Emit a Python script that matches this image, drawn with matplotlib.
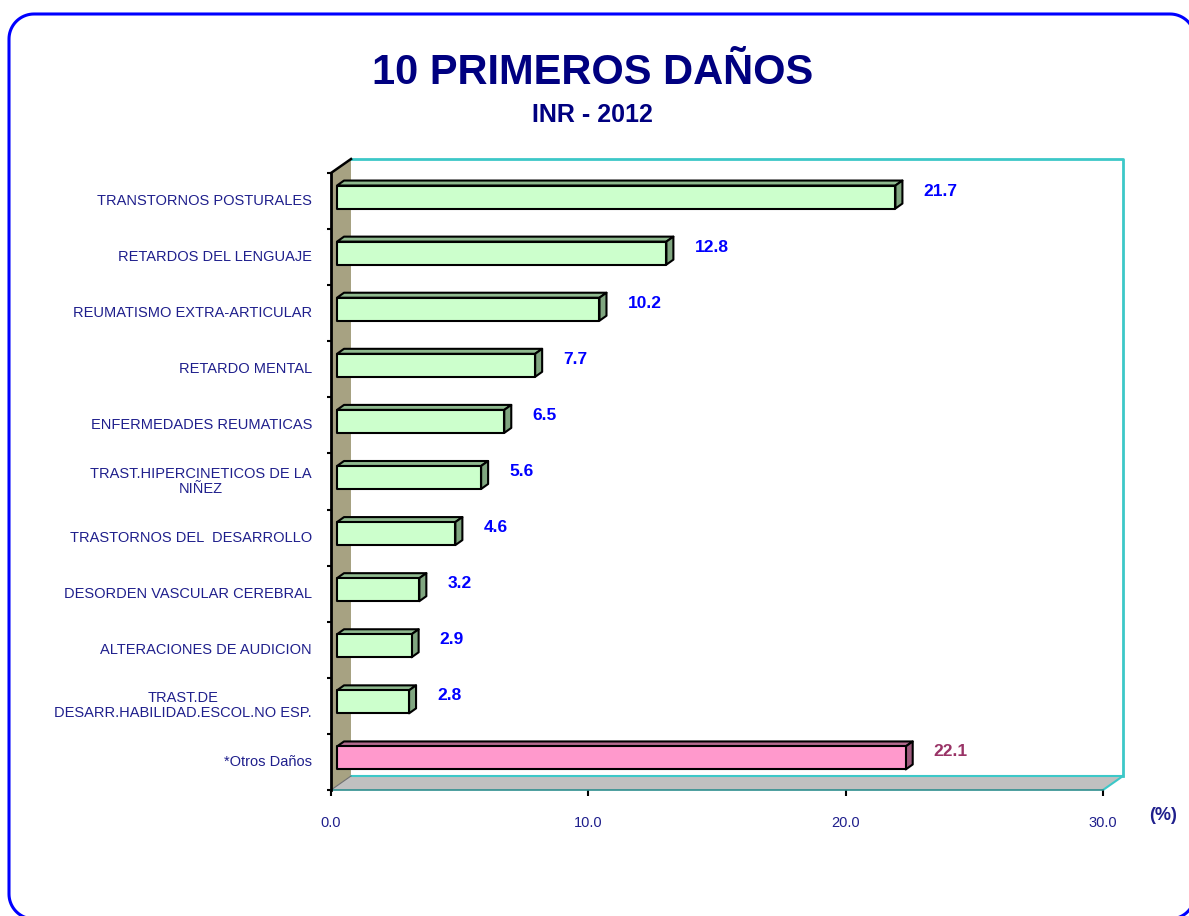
import numpy as np
import matplotlib.pyplot as plt
from matplotlib.patches import Polygon
from matplotlib.lines import Line2D

plt.rcParams['font.family'] = ['Liberation Sans', 'DejaVu Sans']

categorias = [
    "TRANSTORNOS POSTURALES",
    "RETARDOS DEL LENGUAJE",
    "REUMATISMO EXTRA-ARTICULAR",
    "RETARDO MENTAL",
    "ENFERMEDADES REUMATICAS",
    "TRAST.HIPERCINETICOS DE LA\nNIÑEZ",
    "TRASTORNOS DEL  DESARROLLO",
    "DESORDEN VASCULAR CEREBRAL",
    "ALTERACIONES DE AUDICION",
    "TRAST.DE\nDESARR.HABILIDAD.ESCOL.NO ESP.",
    "*Otros Daños",
]
porcentajes = [21.7, 12.8, 10.2, 7.7, 6.5, 5.6, 4.6, 3.2, 2.9, 2.8, 22.1]
ticks_x = [0, 10, 20, 30]

AZUL_OSCURO = '#1f1f8c'

W, H = 1189, 916
fig = plt.figure(figsize=(W / 100, H / 100), dpi=100)

# front plane of the plot area, in pixels
x0, x1, ytop, ybot = 331, 1103, 173, 790
ax = fig.add_axes([x0 / W, 1 - ybot / H, (x1 - x0) / W, (ybot - ytop) / H])
n = len(categorias)
ax.set_xlim(0, 30)
ax.set_ylim(n - 0.5, -0.5)

sx = 30 / (x1 - x0)
sy = n / (ybot - ytop)


def shift(x, y, dx, dy):
    # move a data point dx px right and dy px up
    return (x + dx * sx, y - dy * sy)


D = (20, 14)          # depth of wall/floor
F = (6, 4)            # bar front face
B = (13, 9)           # bar back face

# walls
pared = [(0, -0.5), shift(0, -0.5, *D), shift(0, n - 0.5, *D), (0, n - 0.5)]
piso = [(0, n - 0.5), (30, n - 0.5), shift(30, n - 0.5, *D), shift(0, n - 0.5, *D)]
ax.add_patch(Polygon(pared, closed=True, fc='#a7a282', ec='none', zorder=1, clip_on=False))
ax.add_patch(Polygon(piso, closed=True, fc='#c0c0c0', ec='none', zorder=1, clip_on=False))

cian = '#3cc8c8'
tl = shift(0, -0.5, *D)
tr = shift(30, -0.5, *D)
br = shift(30, n - 0.5, *D)
bl = shift(0, n - 0.5, *D)
ax.plot([tl[0], tr[0], br[0]], [tl[1], tr[1], br[1]], color=cian, lw=2, clip_on=False, zorder=1.5)
ax.plot([bl[0], br[0]], [bl[1], br[1]], color=cian, lw=1.5, clip_on=False, zorder=1.5)
ax.plot([30, br[0]], [n - 0.5, br[1]], color=cian, lw=1.5, clip_on=False, zorder=1.5)
ax.plot([0, tl[0]], [-0.5, tl[1]], color='black', lw=1.8, clip_on=False, zorder=3)
ax.plot([0, bl[0]], [n - 0.5, bl[1]], color='#6f6f6f', lw=0.8, clip_on=False, zorder=1.5)

# 3d bars
hh = 11.5 * sy
for i, v in enumerate(porcentajes):
    if i == n - 1:
        cf, ct, cs, ctxt = '#ff99cc', '#b36b8f', '#9e5a7c', '#993366'
    else:
        cf, ct, cs, ctxt = '#ccffcc', '#8fba8f', '#80a680', '#0000ff'
    y1, y2 = i - hh, i + hh
    frente = [shift(0, y1, *F), shift(v, y1, *F), shift(v, y2, *F), shift(0, y2, *F)]
    arriba = [shift(0, y1, *F), shift(v, y1, *F), shift(v, y1, *B), shift(0, y1, *B)]
    lado = [shift(v, y1, *F), shift(v, y1, *B), shift(v, y2, *B), shift(v, y2, *F)]
    for pts, c in [(arriba, ct), (lado, cs), (frente, cf)]:
        ax.add_patch(Polygon(pts, closed=True, fc=c, ec='black', lw=1.5,
                             joinstyle='round', zorder=4, clip_on=False))
    ax.annotate(f"{v:.1f}", xy=(v, i), xytext=(34, 10), textcoords='offset pixels',
                ha='left', va='center', fontsize=12.5, fontweight='bold', color=ctxt,
                annotation_clip=False)
    ax.annotate(categorias[i], xy=(0, i), xytext=(-19, 0), textcoords='offset pixels',
                ha='right', va='center', multialignment='center', fontsize=10.5,
                color=AZUL_OSCURO, linespacing=1.1, annotation_clip=False)

# axes
for s in ['top', 'right']:
    ax.spines[s].set_visible(False)
ax.spines['left'].set_color('black')
ax.spines['left'].set_linewidth(2)
ax.spines['left'].set_zorder(3)
ax.spines['bottom'].set_color('#2f8f8f')
ax.spines['bottom'].set_linewidth(1.2)
ax.set_facecolor('none')
ax.set_xticks(ticks_x)
ax.set_xticklabels([f"{t:.1f}" for t in ticks_x])
ax.tick_params(axis='x', length=4, width=1.5, color='black', labelcolor=AZUL_OSCURO,
               labelsize=10.5, pad=15)
ax.set_yticks([k - 0.5 for k in range(n + 1)])
ax.set_yticklabels([])
ax.tick_params(axis='y', length=3, width=1.5, color='black')

fig.text(1163 / W, 1 - 815 / H, "(%)", ha='center', va='center', fontsize=13,
         fontweight='bold', color=AZUL_OSCURO)

fig.text(593 / W, 1 - 73 / H, "10 PRIMEROS DAÑOS", ha='center', va='center',
         fontsize=30, fontweight='bold', color='#000080')
fig.text(592 / W, 1 - 115 / H, "INR - 2012", ha='center', va='center',
         fontsize=18, fontweight='bold', color='#000080')

# rounded frame (inches), drawn as a polyline so it clips cleanly at the figure edge
fx0, fx1, fy0, fy1, r = 0.09, 11.95, -0.03, 9.02, 0.25
t = np.linspace(0, np.pi / 2, 20)
esquinas = [(fx1 - r, fy1 - r, 0), (fx0 + r, fy1 - r, np.pi / 2),
            (fx0 + r, fy0 + r, np.pi), (fx1 - r, fy0 + r, 1.5 * np.pi)]
mx, my = [], []
for cx, cy, a0 in esquinas:
    mx.extend(cx + r * np.cos(a0 + t))
    my.extend(cy + r * np.sin(a0 + t))
mx.append(mx[0])
my.append(my[0])
fig.add_artist(Line2D(mx, my, transform=fig.dpi_scale_trans, color='#0000ff', lw=2.2))

fig.savefig('out.png', dpi=100)
